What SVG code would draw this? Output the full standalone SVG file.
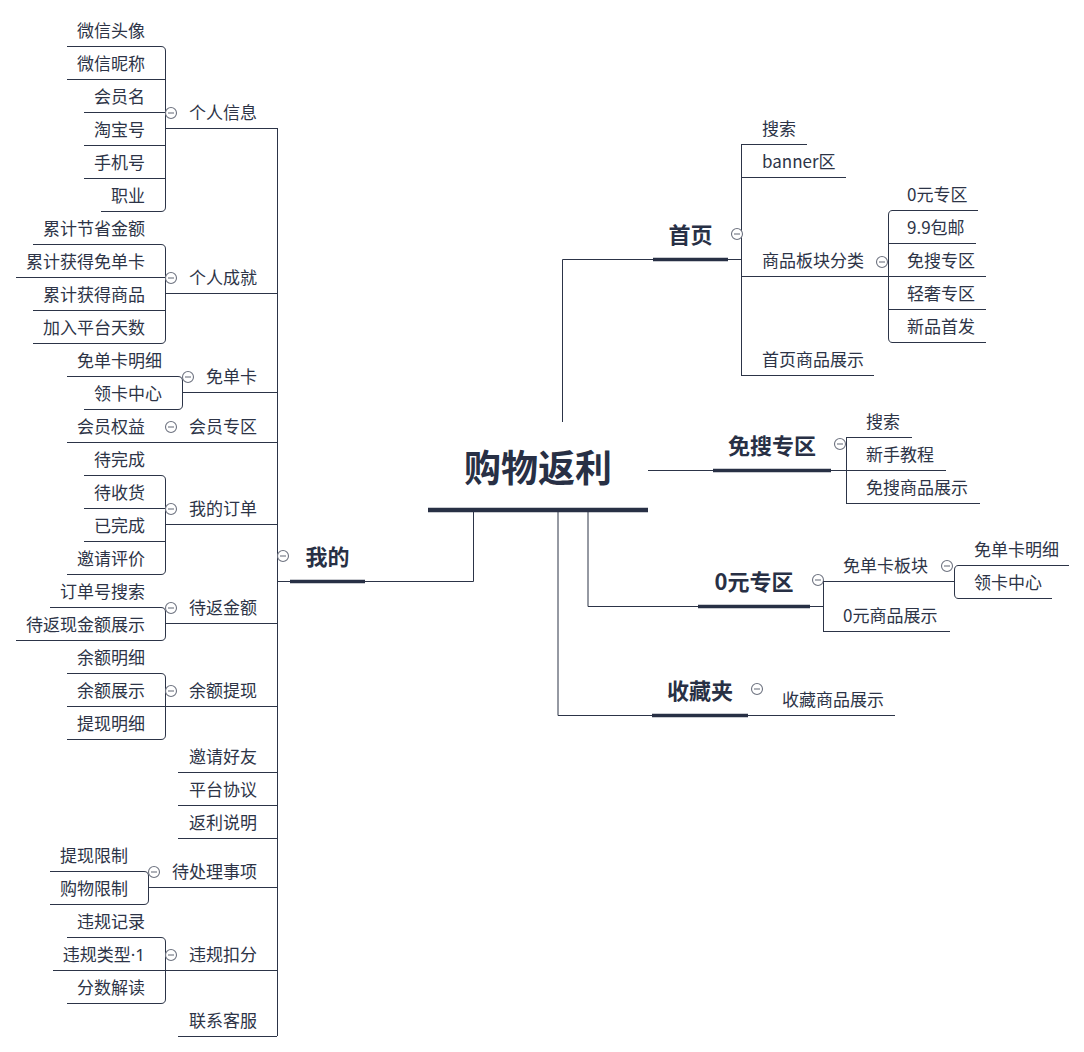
<svg xmlns="http://www.w3.org/2000/svg" width="1084" height="1052" viewBox="0 0 1084 1052">
<defs>
<style>
text{font-family:"Noto Sans CJK SC","Microsoft YaHei",sans-serif;font-size:17px;fill:#2d3447}
.lat{font-family:"Noto Sans","Liberation Sans",sans-serif}
.e{text-anchor:end}
.m{text-anchor:middle}
.h{font-weight:bold;font-size:22px;fill:#283045}
.root{font-weight:bold;font-size:37px;fill:#283045}
.l{fill:none;stroke:#2c3447;stroke-width:1}
.bar{stroke:#283045;stroke-width:3.5}
.rbar{stroke:#283045;stroke-width:4.5}
.c{fill:#fff;stroke:#6e7380;stroke-width:1.1}
.cm{stroke:#6e7380;stroke-width:1.1}
</style>
<g id="col"><circle class="c" cx="0" cy="0" r="5.5"/><line class="cm" x1="-3" y1="0" x2="3" y2="0"/></g>
</defs>
<rect width="1084" height="1052" fill="#fff"/>

<g id="connectors">
<path class="l" d="M562.5,422 V259.5 H653"/>
<path class="l" d="M648,470.5 H713"/>
<path class="l" d="M588,512 V606.5 H698"/>
<path class="l" d="M558,512 V715.5 H652"/>
<path class="l" d="M473.5,512 V581.5 H365"/>
<path class="l" d="M290,581.5 H277.5"/>
<path class="l" d="M277.5,128 V1036"/>
<path class="l" d="M741.5,144 V375"/>
<path class="l" d="M728,259.5 H741.5"/>
<path class="l" d="M846.5,437 V503"/>
<path class="l" d="M831,470.5 H846.5"/>
<path class="l" d="M823.5,581 V631"/>
<path class="l" d="M810,606.5 H823.5"/>
<path class="l" d="M161,46.5 Q165.5,46.5 165.5,51 V207 Q165.5,211.5 161,211.5"/>
<path class="l" d="M161,244.5 Q165.5,244.5 165.5,249 V339 Q165.5,343.5 161,343.5"/>
<path class="l" d="M178,376.5 Q182.5,376.5 182.5,381 V405 Q182.5,409.5 178,409.5"/>
<path class="l" d="M161,475.5 Q165.5,475.5 165.5,480 V570 Q165.5,574.5 161,574.5"/>
<path class="l" d="M161,607.5 Q165.5,607.5 165.5,612 V636 Q165.5,640.5 161,640.5"/>
<path class="l" d="M161,673.5 Q165.5,673.5 165.5,678 V735 Q165.5,739.5 161,739.5"/>
<path class="l" d="M144,871.5 Q148.5,871.5 148.5,876 V900 Q148.5,904.5 144,904.5"/>
<path class="l" d="M161,937.5 Q165.5,937.5 165.5,942 V999 Q165.5,1003.5 161,1003.5"/>
<path class="l" d="M892.5,210.5 Q888.5,210.5 888.5,215 V338 Q888.5,342.5 892.5,342.5"/>
<path class="l" d="M958.5,565.5 Q954.5,565.5 954.5,570 V594 Q954.5,598.5 958.5,598.5"/>
</g>

<g id="root">
<text class="root m" x="538" y="482">购物返利</text>
<line class="rbar" x1="428" y1="510" x2="648" y2="510"/>
</g>

<g id="n-wode">
<text class="h m" x="327.5" y="565">我的</text>
<line class="bar" x1="290" y1="581.5" x2="365" y2="581.5"/>
<use href="#col" x="283" y="556"/>
</g>

<g id="n-grxx">
<text class="e" x="257" y="119">个人信息</text>
<line class="l" x1="165" y1="128.5" x2="277" y2="128.5"/>
<use href="#col" x="171" y="113"/>
</g>
<g id="n-wxtx"><text class="e" x="145" y="37">微信头像</text><line class="l" x1="67" y1="46.5" x2="161" y2="46.5"/></g>
<g id="n-wxnc"><text class="e" x="145" y="70">微信昵称</text><line class="l" x1="67" y1="79.5" x2="165" y2="79.5"/></g>
<g id="n-hym"><text class="e" x="145" y="103">会员名</text><line class="l" x1="84" y1="112.5" x2="165" y2="112.5"/></g>
<g id="n-tbh"><text class="e" x="145" y="136">淘宝号</text><line class="l" x1="84" y1="145.5" x2="165" y2="145.5"/></g>
<g id="n-sjh"><text class="e" x="145" y="169">手机号</text><line class="l" x1="84" y1="178.5" x2="165" y2="178.5"/></g>
<g id="n-zy"><text class="e" x="145" y="202">职业</text><line class="l" x1="101" y1="211.5" x2="161" y2="211.5"/></g>

<g id="n-grcj">
<text class="e" x="257" y="284">个人成就</text>
<line class="l" x1="165" y1="293.5" x2="277" y2="293.5"/>
<use href="#col" x="171" y="278"/>
</g>
<g id="n-ljjs"><text class="e" x="145" y="235">累计节省金额</text><line class="l" x1="33" y1="244.5" x2="161" y2="244.5"/></g>
<g id="n-ljmdk"><text class="e" x="145" y="268">累计获得免单卡</text><line class="l" x1="16" y1="277.5" x2="165" y2="277.5"/></g>
<g id="n-ljsp"><text class="e" x="145" y="301">累计获得商品</text><line class="l" x1="33" y1="310.5" x2="165" y2="310.5"/></g>
<g id="n-jrts"><text class="e" x="145" y="334">加入平台天数</text><line class="l" x1="33" y1="343.5" x2="161" y2="343.5"/></g>

<g id="n-mdk">
<text class="e" x="257" y="383">免单卡</text>
<line class="l" x1="182" y1="392.5" x2="277" y2="392.5"/>
<use href="#col" x="188" y="377"/>
</g>
<g id="n-mdkmx"><text class="e" x="162" y="367">免单卡明细</text><line class="l" x1="67" y1="376.5" x2="178" y2="376.5"/></g>
<g id="n-lkzx"><text class="e" x="162" y="400">领卡中心</text><line class="l" x1="84" y1="409.5" x2="178" y2="409.5"/></g>

<g id="n-hyzq">
<text class="e" x="257" y="433">会员专区</text>
<line class="l" x1="165" y1="442.5" x2="277" y2="442.5"/>
<use href="#col" x="171" y="427"/>
</g>
<g id="n-hyqy"><text class="e" x="145" y="433">会员权益</text><line class="l" x1="67" y1="442.5" x2="165" y2="442.5"/></g>

<g id="n-wddd">
<text class="e" x="257" y="515">我的订单</text>
<line class="l" x1="165" y1="524.5" x2="277" y2="524.5"/>
<use href="#col" x="171" y="509"/>
</g>
<g id="n-dwc"><text class="e" x="145" y="466">待完成</text><line class="l" x1="84" y1="475.5" x2="161" y2="475.5"/></g>
<g id="n-dsh"><text class="e" x="145" y="499">待收货</text><line class="l" x1="84" y1="508.5" x2="165" y2="508.5"/></g>
<g id="n-ywc"><text class="e" x="145" y="532">已完成</text><line class="l" x1="84" y1="541.5" x2="165" y2="541.5"/></g>
<g id="n-yqpj"><text class="e" x="145" y="565">邀请评价</text><line class="l" x1="67" y1="574.5" x2="161" y2="574.5"/></g>

<g id="n-dfje">
<text class="e" x="257" y="614">待返金额</text>
<line class="l" x1="165" y1="623.5" x2="277" y2="623.5"/>
<use href="#col" x="171" y="608"/>
</g>
<g id="n-ddhss"><text class="e" x="145" y="598">订单号搜索</text><line class="l" x1="50" y1="607.5" x2="161" y2="607.5"/></g>
<g id="n-dfxzs"><text class="e" x="145" y="631">待返现金额展示</text><line class="l" x1="16" y1="640.5" x2="161" y2="640.5"/></g>

<g id="n-yetx">
<text class="e" x="257" y="697">余额提现</text>
<line class="l" x1="165" y1="706.5" x2="277" y2="706.5"/>
<use href="#col" x="171" y="691"/>
</g>
<g id="n-yemx"><text class="e" x="145" y="664">余额明细</text><line class="l" x1="67" y1="673.5" x2="161" y2="673.5"/></g>
<g id="n-yezs"><text class="e" x="145" y="697">余额展示</text><line class="l" x1="67" y1="706.5" x2="165" y2="706.5"/></g>
<g id="n-txmx"><text class="e" x="145" y="730">提现明细</text><line class="l" x1="67" y1="739.5" x2="161" y2="739.5"/></g>

<g id="n-yqhy"><text class="e" x="257" y="763">邀请好友</text><line class="l" x1="178" y1="772.5" x2="277" y2="772.5"/></g>
<g id="n-ptxy"><text class="e" x="257" y="796">平台协议</text><line class="l" x1="178" y1="805.5" x2="277" y2="805.5"/></g>
<g id="n-flsm"><text class="e" x="257" y="829">返利说明</text><line class="l" x1="178" y1="838.5" x2="277" y2="838.5"/></g>

<g id="n-dclsx">
<text class="e" x="257" y="878">待处理事项</text>
<line class="l" x1="148" y1="887.5" x2="277" y2="887.5"/>
<use href="#col" x="154" y="872"/>
</g>
<g id="n-txxz"><text class="e" x="128" y="862">提现限制</text><line class="l" x1="50" y1="871.5" x2="144" y2="871.5"/></g>
<g id="n-gwxz"><text class="e" x="128" y="895">购物限制</text><line class="l" x1="50" y1="904.5" x2="144" y2="904.5"/></g>

<g id="n-wgkf">
<text class="e" x="257" y="961">违规扣分</text>
<line class="l" x1="165" y1="970.5" x2="277" y2="970.5"/>
<use href="#col" x="171" y="955"/>
</g>
<g id="n-wgjl"><text class="e" x="145" y="928">违规记录</text><line class="l" x1="67" y1="937.5" x2="161" y2="937.5"/></g>
<g id="n-wglx"><text class="e" x="145" y="961">违规类型<tspan class="lat">·1</tspan></text><line class="l" x1="53" y1="970.5" x2="165" y2="970.5"/></g>
<g id="n-fsjd"><text class="e" x="145" y="994">分数解读</text><line class="l" x1="67" y1="1003.5" x2="161" y2="1003.5"/></g>

<g id="n-lxkf"><text class="e" x="257" y="1027">联系客服</text><line class="l" x1="178" y1="1036.5" x2="277" y2="1036.5"/></g>

<g id="n-sy">
<text class="h m" x="690.5" y="243">首页</text>
<line class="bar" x1="653" y1="259.5" x2="728" y2="259.5"/>
<use href="#col" x="737" y="234"/>
</g>
<g id="n-sy-ss"><text x="762" y="135">搜索</text><line class="l" x1="741" y1="144.5" x2="807" y2="144.5"/></g>
<g id="n-sy-banner"><text x="762" y="168">banner区</text><line class="l" x1="741" y1="177.5" x2="846" y2="177.5"/></g>
<g id="n-spbkfl">
<text x="762" y="267">商品板块分类</text>
<line class="l" x1="741" y1="276.5" x2="888" y2="276.5"/>
<use href="#col" x="882" y="262"/>
</g>
<g id="n-sysp"><text x="762" y="366">首页商品展示</text><line class="l" x1="741" y1="375.5" x2="874" y2="375.5"/></g>
<g id="n-0yzq-s"><text x="907" y="201">0元专区</text><line class="l" x1="892" y1="210.5" x2="978" y2="210.5"/></g>
<g id="n-99by"><text x="907" y="234">9.9包邮</text><line class="l" x1="888" y1="243.5" x2="976" y2="243.5"/></g>
<g id="n-mszq-s"><text x="907" y="267">免搜专区</text><line class="l" x1="888" y1="276.5" x2="986" y2="276.5"/></g>
<g id="n-qszq"><text x="907" y="300">轻奢专区</text><line class="l" x1="888" y1="309.5" x2="986" y2="309.5"/></g>
<g id="n-xpsf"><text x="907" y="333">新品首发</text><line class="l" x1="892" y1="342.5" x2="986" y2="342.5"/></g>

<g id="n-mszq">
<text class="h m" x="772" y="454">免搜专区</text>
<line class="bar" x1="713" y1="470.5" x2="831" y2="470.5"/>
<use href="#col" x="840" y="444"/>
</g>
<g id="n-ms-ss"><text x="866" y="428">搜索</text><line class="l" x1="846" y1="437.5" x2="912" y2="437.5"/></g>
<g id="n-xsjc"><text x="866" y="461">新手教程</text><line class="l" x1="846" y1="470.5" x2="946" y2="470.5"/></g>
<g id="n-mssp"><text x="866" y="494">免搜商品展示</text><line class="l" x1="846" y1="503.5" x2="980" y2="503.5"/></g>

<g id="n-0yzq">
<text class="h m" x="754" y="590">0元专区</text>
<line class="bar" x1="698" y1="606.5" x2="810" y2="606.5"/>
<use href="#col" x="818" y="580"/>
</g>
<g id="n-mdkbk">
<text x="843" y="572">免单卡板块</text>
<line class="l" x1="823" y1="581.5" x2="954" y2="581.5"/>
<use href="#col" x="947" y="566"/>
</g>
<g id="n-0ysp"><text x="843" y="622">0元商品展示</text><line class="l" x1="823" y1="631.5" x2="950" y2="631.5"/></g>
<g id="n-mdkmx-r"><text x="974" y="556">免单卡明细</text><line class="l" x1="958" y1="565.5" x2="1069" y2="565.5"/></g>
<g id="n-lkzx-r"><text x="974" y="589">领卡中心</text><line class="l" x1="958" y1="598.5" x2="1052" y2="598.5"/></g>

<g id="n-scj">
<text class="h m" x="700" y="699">收藏夹</text>
<line class="bar" x1="652" y1="715.5" x2="748" y2="715.5"/>
<use href="#col" x="757" y="689"/>
</g>
<g id="n-scsp"><text x="782" y="706">收藏商品展示</text><line class="l" x1="748" y1="715.5" x2="895" y2="715.5"/></g>
</svg>
